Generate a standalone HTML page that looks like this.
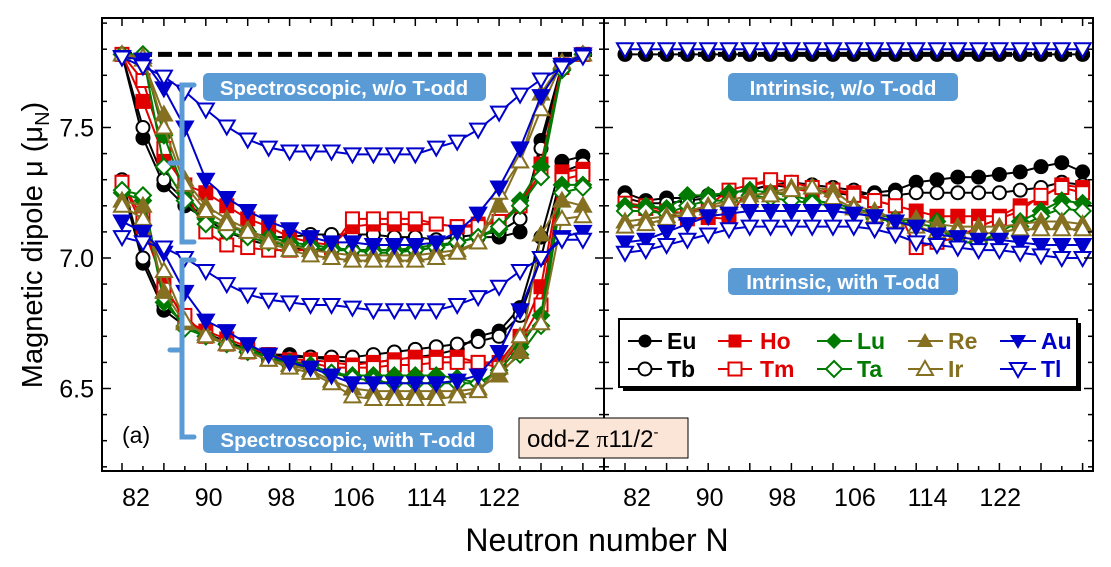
<!DOCTYPE html>
<html><head><meta charset="utf-8">
<style>
html,body{margin:0;padding:0;background:#fff;}
svg{display:block;font-family:"Liberation Sans",Arial,sans-serif;}
</style></head>
<body>
<svg id="chart" width="1111" height="567" viewBox="0 0 1111 567" xmlns="http://www.w3.org/2000/svg">
<rect x="0" y="0" width="1111" height="567" fill="#fff"/>
<g id="marks"></g>
<g id="frame"></g>
</svg>
<script>
// ---------- data ----------
const neutrons = [82,84,86,88,90,92,94,96,98,100,102,104,106,108,110,112,114,116,118,120,122,124,126];
const elements = ["Eu","Tb","Ho","Tm","Lu","Ta","Re","Ir","Au","Tl"];
const xTickLabels = [82,90,98,106,114,122];
const yTickLabels = [6.5,7.0,7.5];
const spectroscopicWithoutTodd = {
Eu:[7.78,7.46,7.28,7.2,7.15,7.1,7.07,7.05,7.04,7.03,7.03,7.03,7.03,7.03,7.03,7.04,7.06,7.08,7.08,7.1,7.45,7.74,7.78],
Tb:[7.78,7.5,7.3,7.22,7.15,7.12,7.1,7.08,7.08,7.09,7.09,7.09,7.09,7.08,7.08,7.07,7.08,7.09,7.1,7.15,7.42,7.73,7.78],
Ho:[7.78,7.6,7.39,7.28,7.25,7.2,7.15,7.12,7.08,7.06,7.05,7.12,7.13,7.13,7.13,7.13,7.12,7.13,7.14,7.2,7.36,7.74,7.78],
Tm:[7.78,7.68,7.42,7.26,7.1,7.05,7.04,7.03,7.03,7.03,7.04,7.15,7.15,7.15,7.15,7.13,7.12,7.12,7.14,7.2,7.33,7.73,7.78],
Lu:[7.78,7.78,7.47,7.25,7.15,7.12,7.1,7.08,7.06,7.05,7.04,7.03,7.03,7.03,7.04,7.05,7.06,7.08,7.11,7.22,7.35,7.72,7.78],
Ta:[7.78,7.78,7.35,7.22,7.13,7.1,7.08,7.06,7.05,7.04,7.03,7.03,7.02,7.02,7.03,7.04,7.06,7.08,7.12,7.2,7.31,7.72,7.78],
Re:[7.78,7.76,7.55,7.3,7.2,7.15,7.11,7.07,7.05,7.03,7.02,7.01,7.01,7.01,7.01,7.02,7.03,7.06,7.2,7.37,7.63,7.75,7.78],
Ir:[7.78,7.77,7.5,7.28,7.18,7.13,7.1,7.06,7.03,7.01,7.0,6.99,6.99,6.99,6.99,7.0,7.02,7.06,7.25,7.37,7.57,7.75,7.78],
Au:[7.77,7.76,7.65,7.5,7.3,7.23,7.18,7.14,7.11,7.08,7.06,7.06,7.05,7.05,7.05,7.06,7.1,7.17,7.27,7.42,7.62,7.74,7.78],
Tl:[7.768,7.734,7.695,7.638,7.569,7.504,7.454,7.423,7.408,7.408,7.408,7.397,7.397,7.397,7.397,7.423,7.446,7.492,7.557,7.626,7.684,7.730,7.772]
};
const spectroscopicWithTodd = {
Eu:[7.28,6.98,6.8,6.74,6.7,6.68,6.65,6.63,6.63,6.62,6.61,6.6,6.6,6.61,6.62,6.63,6.65,6.7,6.72,6.81,7.08,7.37,7.39],
Tb:[7.3,7.0,6.82,6.75,6.71,6.68,6.65,6.63,6.62,6.62,6.62,6.62,6.63,6.64,6.65,6.66,6.67,6.68,6.7,6.78,7.0,7.33,7.36],
Ho:[7.29,7.12,6.9,6.76,6.72,6.69,6.66,6.63,6.61,6.61,6.6,6.59,6.6,6.61,6.62,6.62,6.62,6.6,6.6,6.7,6.89,7.33,7.34],
Tm:[7.29,7.15,6.88,6.78,6.7,6.67,6.64,6.62,6.6,6.6,6.58,6.58,6.58,6.59,6.59,6.6,6.6,6.6,6.58,6.68,6.82,7.3,7.32],
Lu:[7.25,7.22,6.83,6.74,6.7,6.67,6.65,6.62,6.6,6.59,6.56,6.55,6.55,6.55,6.55,6.55,6.54,6.52,6.57,6.66,6.78,7.28,7.28],
Ta:[7.26,7.24,6.85,6.73,6.7,6.67,6.64,6.62,6.59,6.58,6.56,6.54,6.53,6.52,6.52,6.52,6.52,6.52,6.56,6.63,6.74,7.25,7.27],
Re:[7.22,7.2,6.87,6.75,6.71,6.67,6.64,6.61,6.59,6.57,6.53,6.5,6.49,6.49,6.49,6.49,6.49,6.5,6.55,6.64,7.09,7.22,7.2],
Ir:[7.2,7.15,6.95,6.76,6.7,6.67,6.64,6.61,6.58,6.56,6.52,6.47,6.46,6.46,6.46,6.46,6.47,6.49,6.58,6.7,6.75,7.15,7.16],
Au:[7.14,7.1,7.02,6.87,6.76,6.72,6.67,6.63,6.6,6.58,6.55,6.52,6.52,6.52,6.52,6.52,6.53,6.55,6.64,6.8,7.0,7.08,7.1],
Tl:[7.08,7.06,7.04,7.0,6.95,6.9,6.86,6.84,6.83,6.82,6.82,6.81,6.8,6.8,6.8,6.8,6.82,6.85,6.89,6.95,7.0,7.07,7.07]
};
const intrinsicWithoutTodd = {
Eu:[7.78,7.78,7.78,7.78,7.78,7.78,7.78,7.78,7.78,7.78,7.78,7.78,7.78,7.78,7.78,7.78,7.78,7.78,7.78,7.78,7.78,7.78,7.78],
Tl:[7.80,7.80,7.80,7.80,7.80,7.80,7.80,7.80,7.80,7.80,7.80,7.80,7.80,7.80,7.80,7.80,7.80,7.80,7.80,7.80,7.80,7.80,7.80]
};
const intrinsicWithTodd = {
Eu:[7.25,7.22,7.23,7.23,7.24,7.25,7.26,7.28,7.27,7.26,7.25,7.24,7.25,7.26,7.29,7.3,7.31,7.31,7.32,7.33,7.35,7.365,7.33],
Tb:[7.23,7.21,7.21,7.22,7.23,7.25,7.26,7.28,7.29,7.28,7.27,7.26,7.24,7.24,7.25,7.25,7.25,7.25,7.25,7.26,7.27,7.29,7.28],
Ho:[7.2,7.19,7.17,7.15,7.155,7.15,7.28,7.29,7.27,7.25,7.26,7.25,7.22,7.2,7.18,7.16,7.16,7.16,7.16,7.2,7.23,7.28,7.27],
Tm:[7.21,7.2,7.18,7.17,7.2,7.26,7.28,7.3,7.29,7.27,7.26,7.24,7.22,7.2,7.04,7.06,7.08,7.12,7.15,7.18,7.24,7.27,7.25],
Lu:[7.2,7.2,7.19,7.24,7.24,7.25,7.26,7.25,7.24,7.22,7.21,7.19,7.17,7.15,7.14,7.14,7.06,7.06,7.1,7.14,7.18,7.22,7.21],
Ta:[7.18,7.18,7.17,7.2,7.22,7.22,7.24,7.23,7.22,7.21,7.2,7.18,7.15,7.14,7.13,7.12,7.06,7.06,7.09,7.12,7.16,7.19,7.18],
Re:[7.14,7.15,7.16,7.18,7.2,7.22,7.24,7.25,7.27,7.27,7.26,7.2,7.18,7.15,7.15,7.13,7.12,7.12,7.12,7.13,7.14,7.14,7.13],
Ir:[7.12,7.13,7.15,7.17,7.19,7.21,7.22,7.24,7.26,7.27,7.23,7.19,7.16,7.14,7.12,7.1,7.1,7.09,7.1,7.11,7.11,7.11,7.11],
Au:[7.06,7.07,7.1,7.13,7.16,7.17,7.18,7.18,7.18,7.18,7.18,7.17,7.16,7.14,7.12,7.09,7.08,7.07,7.07,7.06,7.05,7.05,7.05],
Tl:[7.02,7.03,7.05,7.07,7.09,7.11,7.12,7.12,7.12,7.12,7.12,7.12,7.11,7.09,7.06,7.05,7.04,7.03,7.03,7.02,7.01,7.0,7.0]
};
const referenceValue = 7.78;

// ---------- styles ----------
const styles = {
Eu:{c:"#000000",shape:"circle",fill:true},
Tb:{c:"#000000",shape:"circle",fill:false},
Ho:{c:"#e00000",shape:"square",fill:true},
Tm:{c:"#e00000",shape:"square",fill:false},
Lu:{c:"#007a00",shape:"diamond",fill:true},
Ta:{c:"#007a00",shape:"diamond",fill:false},
Re:{c:"#857022",shape:"up",fill:true},
Ir:{c:"#857022",shape:"up",fill:false},
Au:{c:"#0000cc",shape:"down",fill:true},
Tl:{c:"#0000cc",shape:"down",fill:false}
};
const NS="http://www.w3.org/2000/svg";
const marks=document.getElementById('marks');
const frame=document.getElementById('frame');
function el(tag,attrs,parent){const e=document.createElementNS(NS,tag);for(const k in attrs)e.setAttribute(k,attrs[k]);(parent||marks).appendChild(e);return e;}

// axes
const yScale=v=>258-(v-7.0)*261;
const xLeft=N=>122+(N-82)/2*20.95;
const xRight=N=>625+(N-82)/2*20.8;
const tickLeft=N=>136+(N-82)*9.08;
const tickRight=N=>637+(N-82)*9.08;

function marker(shape,x,y,color,fill,parent){
  const f=fill?color:"#fff";const sw=2;let e;
  if(shape==="circle") e=el('circle',{cx:x,cy:y,r:6.5,fill:f,stroke:color,'stroke-width':sw},parent);
  else if(shape==="square") e=el('rect',{x:x-6.5,y:y-6.5,width:13,height:13,fill:f,stroke:color,'stroke-width':sw},parent);
  else if(shape==="diamond") e=el('polygon',{points:`${x},${y-8} ${x+8},${y} ${x},${y+8} ${x-8},${y}`,fill:f,stroke:color,'stroke-width':sw},parent);
  else if(shape==="up") e=el('polygon',{points:`${x},${y-8} ${x+8},${y+6} ${x-8},${y+6}`,fill:f,stroke:color,'stroke-width':sw},parent);
  else e=el('polygon',{points:`${x},${y+8} ${x+8},${y-6} ${x-8},${y-6}`,fill:f,stroke:color,'stroke-width':sw},parent);
  return e;
}

function drawSeries(dataset,xf,groupName){
  for(const name of elements){
    const vals=dataset[name]; if(!vals) continue;
    const st=styles[name];
    const g=el('g',{});
    
    
    const pts=vals.map((v,i)=>[xf(neutrons[i]),yScale(v)]);
    const line=el('polyline',{points:pts.map(p=>p.join(',')).join(' '),fill:'none',stroke:st.c,'stroke-width':2},g);
    
    
    pts.forEach(p=>{
      const m=marker(st.shape,p[0],p[1],st.c,st.fill,g);
      
      
    });
  }
}

const refL=el('line',{x1:118,x2:592,y1:yScale(referenceValue),y2:yScale(referenceValue),stroke:'#000','stroke-width':5,'stroke-dasharray':'14,6'});


drawSeries(spectroscopicWithoutTodd,xLeft,'spectroscopic-wo-todd');
drawSeries(spectroscopicWithTodd,xLeft,'spectroscopic-with-todd');
const refR=el('line',{x1:618,x2:1090,y1:yScale(referenceValue),y2:yScale(referenceValue),stroke:'#000','stroke-width':5,'stroke-dasharray':'14,6'});


drawSeries(intrinsicWithoutTodd,xRight,'intrinsic-wo-todd');
drawSeries(intrinsicWithTodd,xRight,'intrinsic-with-todd');

const yTop=18,yBot=471,L=102,M=604,R=1093;
const fr=el('rect',{x:L,y:yTop,width:R-L,height:yBot-yTop,fill:'none',stroke:'#000','stroke-width':2},frame);


const dv=el('line',{x1:M,x2:M,y1:yTop,y2:yBot,stroke:'#000','stroke-width':2},frame);


for(const N of neutrons){
  for(const xf of [xLeft,xRight]){
    const x=xf(N); const len=(N%4===2)?8:5;
    el('line',{x1:x,x2:x,y1:yBot,y2:yBot-len,stroke:'#000','stroke-width':1.5},frame);
    el('line',{x1:x,x2:x,y1:yTop,y2:yTop+len,stroke:'#000','stroke-width':1.5},frame);
  }
}
for(let k=62;k<=79;k++){
  const v=k/10,y=yScale(v),major=(k%5===0),len=major?9:5;
  el('line',{x1:L,x2:L+len,y1:y,y2:y,stroke:'#000','stroke-width':1.5},frame);
  el('line',{x1:M-len,x2:M+len,y1:y,y2:y,stroke:'#000','stroke-width':1.5},frame);
  el('line',{x1:R-len,x2:R,y1:y,y2:y,stroke:'#000','stroke-width':1.5},frame);
}
for(const v of yTickLabels){
  const t=el('text',{x:94,y:yScale(v)+9,'text-anchor':'end','font-size':25},frame);
  t.textContent=v.toFixed(1);
  
  
}
for(const N of xTickLabels){
  for(const tf of [tickLeft,tickRight]){
    const t=el('text',{x:tf(N),y:506,'text-anchor':'middle','font-size':25},frame);
    t.textContent=N;
    
    
  }
}
</script>
<svg style="position:absolute;left:0;top:0" width="1111" height="567" font-family="Liberation Sans, Arial, sans-serif">
  <text x="597" y="551" text-anchor="middle" font-size="32">Neutron number N</text>
  <text transform="translate(42,245) rotate(-90)" text-anchor="middle" font-size="29">Magnetic dipole μ (μ<tspan font-size="20" dy="7">N</tspan><tspan dy="-7">)</tspan></text>
  <path d="M194,85 L182,85 L182,242 L194,242 M182,163 L170,163" stroke="#5b9bd5" stroke-width="5" fill="none" stroke-linecap="round"/>
  <path d="M194,260 L182,260 L182,437 L194,437 M182,350 L170,350" stroke="#5b9bd5" stroke-width="5" fill="none" stroke-linecap="round"/>
  <g font-weight="bold" font-size="20.5" fill="#fff" text-anchor="middle">
    <rect x="203" y="73" width="283" height="28" rx="5" fill="#5b9bd5"/>
    <text x="344" y="95">Spectroscopic, w/o T-odd</text>
    <rect x="728" y="73" width="230" height="28" rx="5" fill="#5b9bd5"/>
    <text x="843" y="95">Intrinsic, w/o T-odd</text>
    <rect x="728" y="268" width="230" height="27" rx="5" fill="#5b9bd5"/>
    <text x="843" y="289">Intrinsic, with T-odd</text>
    <rect x="203" y="425" width="290" height="28" rx="5" fill="#5b9bd5"/>
    <text x="348" y="447">Spectroscopic, with T-odd</text>
  </g>
  <text x="122" y="443" font-size="23">(a)</text>
  <rect x="519" y="418" width="169" height="40" fill="#fbe5d6" stroke="#000" stroke-width="1"/>
  <text x="527" y="447" font-size="24">odd-Z <tspan font-family="Liberation Serif, serif">π</tspan>11/2<tspan font-size="15" dy="-10">-</tspan></text>
  <g>
    <rect x="623" y="323" width="458" height="68" fill="#000"/>
    <rect x="619" y="319" width="458" height="68" fill="#fff" stroke="#000" stroke-width="2"/>
    <g font-weight="bold" font-size="23">
      <g><line x1="628" x2="662" y1="341" y2="341" stroke="#000" stroke-width="2"/><circle cx="645" cy="341" r="6.5" fill="#000"/><text x="667" y="349" fill="#000">Eu</text></g>
      <g><line x1="628" x2="662" y1="369" y2="369" stroke="#000" stroke-width="2"/><circle cx="645" cy="369" r="6.5" fill="#fff" stroke="#000" stroke-width="2"/><text x="667" y="377" fill="#000">Tb</text></g>
      <g><line x1="718" x2="752" y1="341" y2="341" stroke="#e00000" stroke-width="2"/><rect x="728.5" y="334.5" width="13" height="13" fill="#e00000"/><text x="760" y="349" fill="#e00000">Ho</text></g>
      <g><line x1="718" x2="752" y1="369" y2="369" stroke="#e00000" stroke-width="2"/><rect x="728.5" y="362.5" width="13" height="13" fill="#fff" stroke="#e00000" stroke-width="2"/><text x="760" y="377" fill="#e00000">Tm</text></g>
      <g><line x1="817" x2="852" y1="341" y2="341" stroke="#007a00" stroke-width="2"/><polygon points="834,333 842,341 834,349 826,341" fill="#007a00"/><text x="857" y="349" fill="#007a00">Lu</text></g>
      <g><line x1="817" x2="852" y1="369" y2="369" stroke="#007a00" stroke-width="2"/><polygon points="834,361 842,369 834,377 826,369" fill="#fff" stroke="#007a00" stroke-width="2"/><text x="857" y="377" fill="#007a00">Ta</text></g>
      <g><line x1="908" x2="943" y1="341" y2="341" stroke="#857022" stroke-width="2"/><polygon points="925,333 933,347 917,347" fill="#857022"/><text x="948" y="349" fill="#857022">Re</text></g>
      <g><line x1="908" x2="943" y1="369" y2="369" stroke="#857022" stroke-width="2"/><polygon points="925,361 933,375 917,375" fill="#fff" stroke="#857022" stroke-width="2"/><text x="948" y="377" fill="#857022">Ir</text></g>
      <g><line x1="1000" x2="1036" y1="341" y2="341" stroke="#0000cc" stroke-width="2"/><polygon points="1018,349 1026,335 1010,335" fill="#0000cc"/><text x="1041" y="349" fill="#0000cc">Au</text></g>
      <g><line x1="1000" x2="1036" y1="369" y2="369" stroke="#0000cc" stroke-width="2"/><polygon points="1018,377 1026,363 1010,363" fill="#fff" stroke="#0000cc" stroke-width="2"/><text x="1041" y="377" fill="#0000cc">Tl</text></g>
    </g>
  </g>
</svg>
</body></html>
